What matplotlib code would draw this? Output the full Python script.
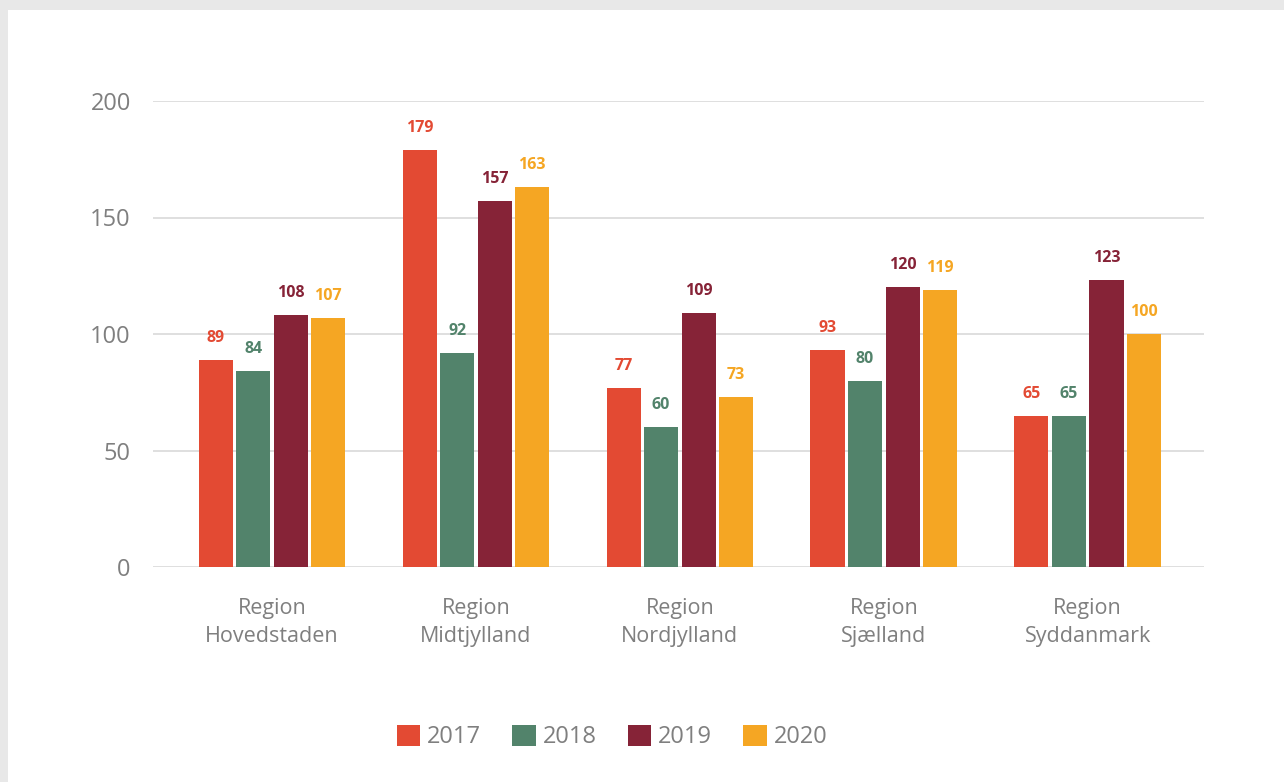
import matplotlib.pyplot as plt
import numpy as np
from matplotlib.patches import Rectangle

regions = ["Region\nHovedstaden", "Region\nMidtjylland", "Region\nNordjylland",
           "Region\nSjælland", "Region\nSyddanmark"]
years = ["2017", "2018", "2019", "2020"]
v2017 = [89, 179, 77, 93, 65]
v2018 = [84, 92, 60, 80, 65]
v2019 = [108, 157, 109, 120, 123]
v2020 = [107, 163, 73, 119, 100]
values = [v2017, v2018, v2019, v2020]
colors = ["#E34A33", "#52836B", "#862337", "#F5A623"]

plt.rcParams['font.family'] = ['Open Sans', 'DejaVu Sans']

fig = plt.figure(figsize=(12.84, 7.82), dpi=100)
fig.patch.set_facecolor("#e8e8e8")
fig.patches.append(Rectangle((8 / 1284, 0), 1, 1 - 10 / 782, transform=fig.transFigure,
                             facecolor="white", edgecolor="none", zorder=-10))

ax = fig.add_axes([153 / 1284, 1 - 567 / 782, 1051 / 1284, 466 / 782])
ax.set_facecolor("none")

x = np.arange(len(regions))
step = 0.184
width = 0.167
for i in range(4):
    pos = x + (i - 1.5) * step
    ax.bar(pos, values[i], width=width, color=colors[i], label=years[i], zorder=3)
    for p, v in zip(pos, values[i]):
        ax.text(p, v + 6, str(v), ha="center", va="bottom", color=colors[i],
                fontsize=11.5, fontweight="bold")

ax.set_xlim(-0.583, 4.57)
ax.set_ylim(0, 200)
ax.set_yticks([0, 50, 100, 150, 200])
ax.yaxis.grid(True, color="#d9d9d9", linewidth=1.2)
ax.set_axisbelow(True)
for s in ax.spines.values():
    s.set_visible(False)
ax.tick_params(axis="y", length=0, pad=16, labelsize=17, labelcolor="#7f7f7f")
ax.set_xticks(x)
ax.set_xticklabels(regions, fontsize=15.5, color="#7f7f7f", linespacing=1.45)
ax.tick_params(axis="x", length=0, pad=22)

leg = fig.legend(loc="center", bbox_to_anchor=(612 / 1284, 1 - 737 / 782), ncol=4,
                 frameon=False, fontsize=17, handlelength=1.0, handleheight=1.0,
                 handletextpad=0.3, columnspacing=1.3, labelcolor="#7f7f7f")

fig.savefig("out.png", dpi=100, facecolor=fig.get_facecolor())
